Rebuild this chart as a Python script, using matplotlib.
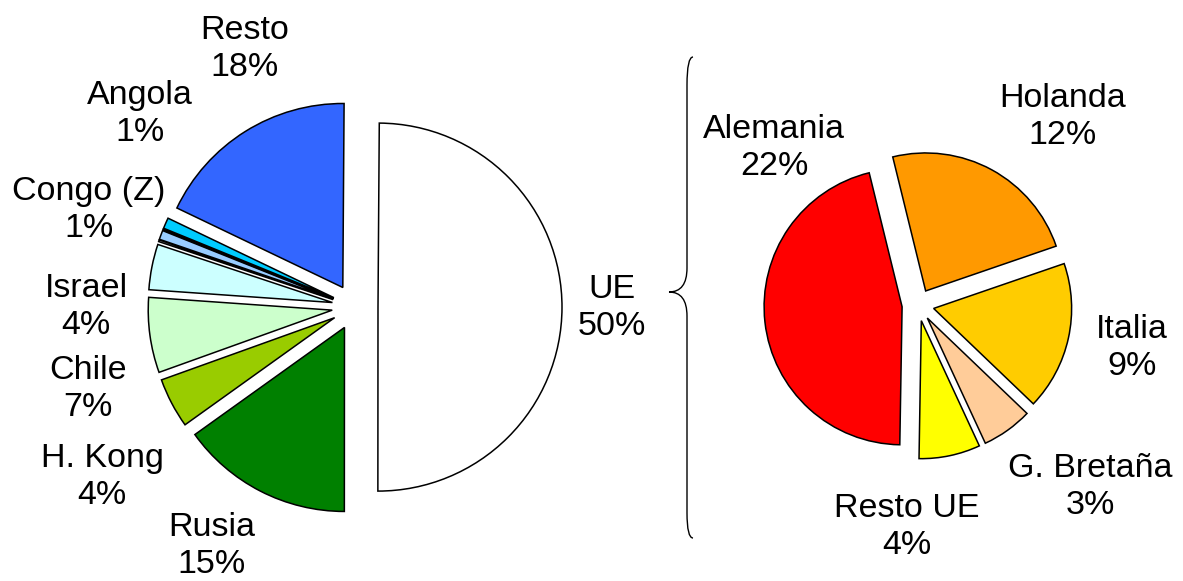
import matplotlib.pyplot as plt
from matplotlib.path import Path
from matplotlib.patches import PathPatch

plt.rcParams['font.family'] = ['Liberation Sans', 'DejaVu Sans']

# left pie: total, clockwise from the top
left_labels = ['UE', 'Rusia', 'H. Kong', 'Chile', 'Israel', '', 'Congo (Z)', '', 'Angola', 'Resto']
left_values = [49.9, 15.1, 4.4, 6.6, 4.0, 0.15, 0.8, 0.1, 0.95, 18.0]
left_colors = ['#FFFFFF', '#008000', '#99CC00', '#CCFFCC', '#CCFFFF', '#FFFFFF',
               '#99CCFF', '#000000', '#00CCFF', '#3366FF']

# right pie: breakdown of UE, clockwise from Holanda
right_labels = ['Holanda', 'Italia', 'G. Bretaña', 'Resto UE', 'Alemania']
right_values = [11.5, 8.5, 2.9, 3.5, 22.4]
right_colors = ['#FF9900', '#FFCC00', '#FFCC99', '#FFFF00', '#FF0000']

W, H = 1183, 581
fig = plt.figure(figsize=(W / 100, H / 100), dpi=100)
ax = fig.add_axes([0, 0, 1, 1])

# explode is in data units (pixels) here
wp = dict(edgecolor='black', linewidth=1.1)
ax.pie(left_values, colors=left_colors, explode=[23] * len(left_values),
       startangle=89.6, counterclock=False, radius=184, center=(355, H - 307),
       wedgeprops=wp, frame=True)
ax.pie(right_values, colors=right_colors, explode=[16] * len(right_values),
       startangle=103.8, counterclock=False, radius=138, center=(918, H - 305),
       wedgeprops=wp, frame=True)

# label text positions (pixels from top-left)
txt = [
    ('Resto', '18%', 245, 49),
    ('Angola', '1%', 140, 114),
    ('Congo (Z)', '1%', 89, 210),
    ('Israel', '4%', 86, 307),
    ('Chile', '7%', 88, 389),
    ('H. Kong', '4%', 102, 477),
    ('Rusia', '15%', 212, 546),
    ('UE', '50%', 612, 308),
    ('Alemania', '22%', 774, 148),
    ('Holanda', '12%', 1063, 117),
    ('Italia', '9%', 1132, 348),
    ('G. Bretaña', '3%', 1090, 487),
    ('Resto UE', '4%', 907, 527),
]
for name, pct, x, y in txt:
    ax.text(x, H - y, name + '\n' + pct, ha='center', va='center',
            fontsize=24.5, linespacing=1.22)

# curly brace
verts = [(693, 57), (687, 57), (687, 85),
         (687, 268),
         (687, 292), (669, 292),
         (687, 292), (687, 316),
         (687, 513),
         (687, 538), (693, 538)]
codes = [Path.MOVETO, Path.CURVE3, Path.CURVE3,
         Path.LINETO,
         Path.CURVE3, Path.CURVE3,
         Path.CURVE3, Path.CURVE3,
         Path.LINETO,
         Path.CURVE3, Path.CURVE3]
verts = [(x, H - y) for x, y in verts]
ax.add_patch(PathPatch(Path(verts, codes), facecolor='none', edgecolor='black', lw=1))

ax.set_xlim(0, W)
ax.set_ylim(0, H)
ax.set_aspect('equal')
ax.axis('off')

fig.savefig('out.png', dpi=100)
